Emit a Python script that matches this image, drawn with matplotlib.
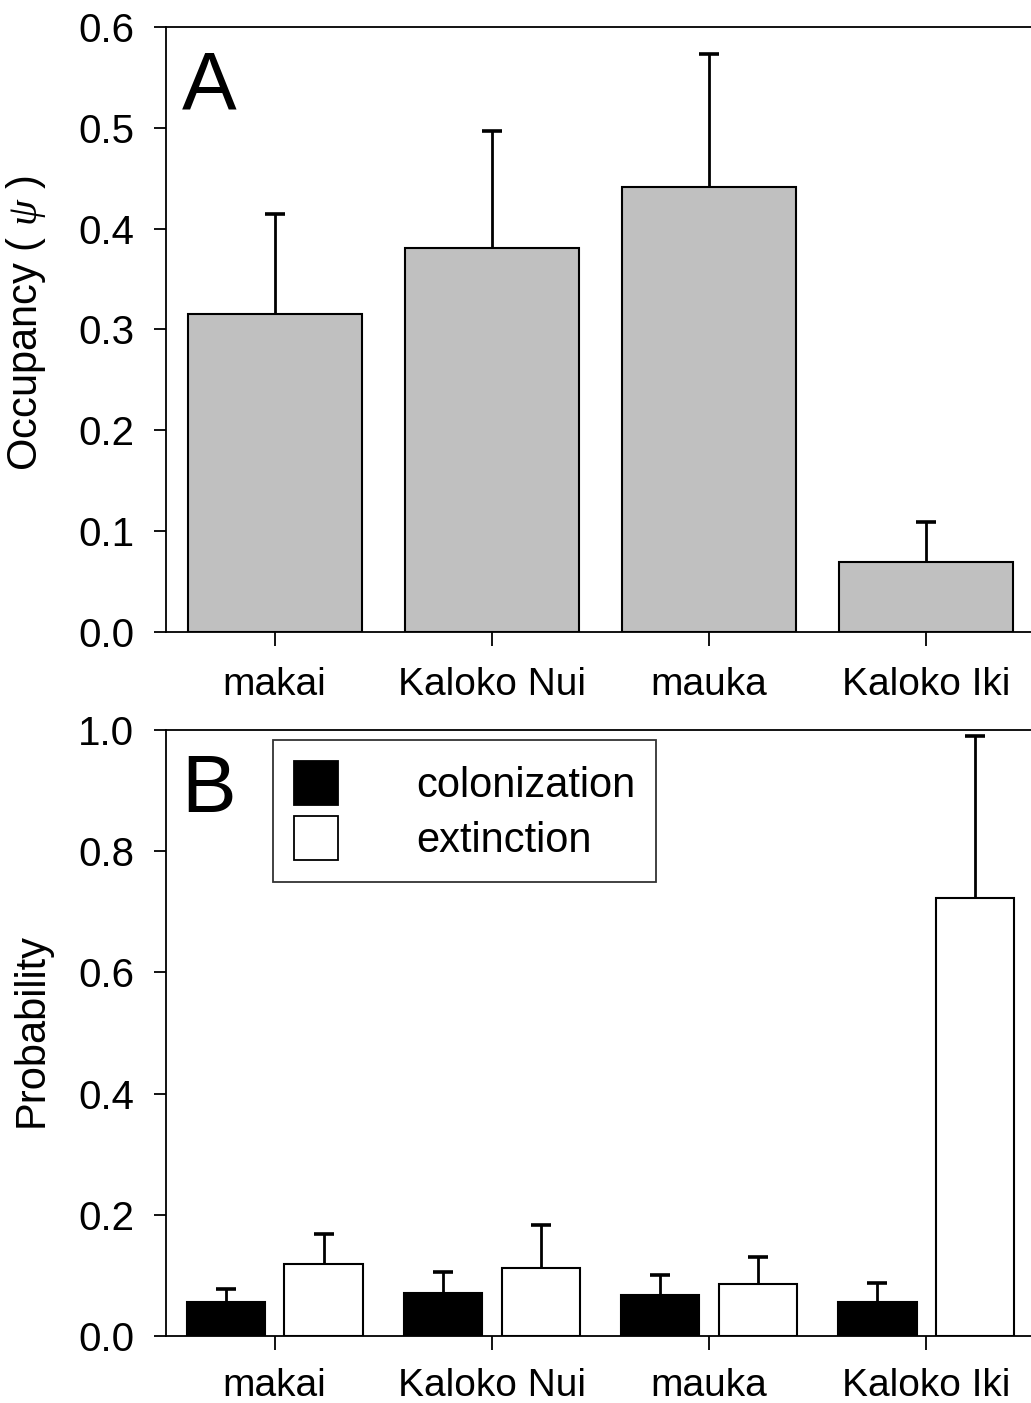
import numpy as np
import matplotlib
matplotlib.use("Agg")
import matplotlib.pyplot as plt
from matplotlib.patches import Patch

plt.rcParams['font.family'] = ['Liberation Sans', 'DejaVu Sans']
plt.rcParams['mathtext.fontset'] = 'custom'
plt.rcParams['mathtext.it'] = 'Liberation Serif:italic'
plt.rcParams['mathtext.rm'] = 'Liberation Sans'

sites = ["makai", "Kaloko Nui", "mauka", "Kaloko Iki"]
occupancy = [0.315, 0.381, 0.441, 0.069]
occupancy_upper = [0.415, 0.497, 0.573, 0.109]
colonization = [0.056, 0.071, 0.068, 0.056]
colonization_upper = [0.078, 0.106, 0.101, 0.087]
extinction = [0.119, 0.112, 0.086, 0.723]
extinction_upper = [0.168, 0.183, 0.130, 0.990]
ticks_a = [0.0, 0.1, 0.2, 0.3, 0.4, 0.5, 0.6]
ticks_b = [0.0, 0.2, 0.4, 0.6, 0.8, 1.0]

W, H = 1031, 1403
fig = plt.figure(figsize=(W / 100, H / 100), dpi=100)

def fax(l, t, r, b):
    return fig.add_axes([l / W, 1 - b / H, (r - l) / W, (b - t) / H])

axA = fax(166, 27, 1035, 632)
axB = fax(166, 730, 1035, 1336)

x = np.arange(len(sites))
YFS = 29
XFS = 28

def upper_err(ax, xs, means, uppers):
    means = np.asarray(means)
    err = np.asarray(uppers) - means
    eb = ax.errorbar(xs, means, yerr=[np.zeros_like(err), err], fmt='none',
                     ecolor='black', elinewidth=2.0, capsize=7.5, capthick=2.6,
                     zorder=1)
    for cl in eb[1]:
        if np.allclose(cl.get_ydata(), means):
            cl.set_visible(False)

def style(ax, ticks, xpad):
    ax.spines['right'].set_visible(False)
    for s in ['left', 'top', 'bottom']:
        ax.spines[s].set_linewidth(1.3)
    ax.set_xlim(-0.5, 3.5)
    ax.set_yticks(ticks)
    ax.set_yticklabels([f"{t:.1f}" for t in ticks])
    ax.set_xticks(x)
    ax.set_xticklabels(sites)
    ax.tick_params(axis='y', direction='out', length=9, width=1.3, labelsize=YFS, pad=14)
    ax.tick_params(axis='x', direction='out', length=10, width=1.3, labelsize=XFS, pad=xpad)

# Panel A
axA.bar(x, occupancy, width=0.8, color='#c0c0c0', edgecolor='black', linewidth=1.5, zorder=2)
upper_err(axA, x, occupancy, occupancy_upper)
axA.set_ylim(0, 0.6)
style(axA, ticks_a, 15)
axA.set_ylabel('Occupancy ( $\\mathit{\\psi}$ )', fontsize=30, va='baseline')
axA.yaxis.set_label_coords(-0.149, 0.51)
axA.text(0.018, 0.866, 'A', transform=axA.transAxes, fontsize=59, va='baseline', ha='left')

# Panel B
off = 0.225
bw = 0.36
axB.bar(x - off, colonization, width=bw, color='black', edgecolor='black', linewidth=1.5, zorder=2)
axB.bar(x + off, extinction, width=bw, color='white', edgecolor='black', linewidth=1.5, zorder=2)
upper_err(axB, x - off, colonization, colonization_upper)
upper_err(axB, x + off, extinction, extinction_upper)
axB.set_ylim(0, 1.0)
style(axB, ticks_b, 13)
axB.set_ylabel('Probability', fontsize=30, va='baseline')
axB.yaxis.set_label_coords(-0.1415, 0.505)
axB.text(0.018, 0.865, 'B', transform=axB.transAxes, fontsize=59, va='baseline', ha='left')

handles = [Patch(facecolor='black', edgecolor='black', linewidth=1.3),
           Patch(facecolor='white', edgecolor='black', linewidth=1.3)]
leg = axB.legend(handles, ['colonization', 'extinction'], loc='upper left',
                 bbox_to_anchor=(273 / W, 1 - 740 / H), bbox_transform=fig.transFigure,
                 fontsize=30, frameon=True, fancybox=False, edgecolor='black',
                 handlelength=1.06, handleheight=1.246, handletextpad=1.88,
                 labelspacing=0.25, borderpad=0.5, borderaxespad=0)
leg.get_frame().set_linewidth(1.3)

fig.savefig('out.png', dpi=100)
